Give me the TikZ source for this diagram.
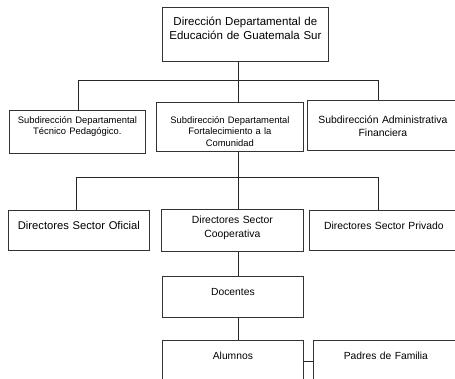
\documentclass[tikz,border=0pt]{standalone}
\usepackage{fontspec}
\setmainfont{Liberation Sans}

\begin{document}
\begin{tikzpicture}[
  x=1pt, y=-1pt,
  box/.style={draw=black!80,line width=0.8pt,anchor=north west,align=center,inner xsep=0pt,inner ysep=0pt},
  link/.style={draw=black!85,line width=0.8pt}
]
\useasboundingbox (0,0) rectangle (455,379);
\clip (0,0) rectangle (455,379);

% direccion
\node[box,text width=166pt,text height=18.5pt,text depth=35.5pt,font=\fontsize{11.5}{14}\selectfont] (dir) at (162,7) {Dirección Departamental de\\Educación de Guatemala Sur};

% subdirecciones
\node[box,text width=136pt,text height=13pt,text depth=30pt,font=\fontsize{9.4}{11}\selectfont] (sub1) at (9,110) {Subdirección Departamental\\Técnico Pedagógico.};
\node[box,text width=147pt,text height=21pt,text depth=28pt,font=\fontsize{9.4}{11.5}\selectfont] (sub2) at (156,102) {Subdirección Departamental\\Fortalecimiento a la\\Comunidad};
\node[box,text width=151pt,text height=23.5pt,text depth=26.5pt,font=\fontsize{10.4}{13}\selectfont] (sub3) at (307,100) {Subdirección Administrativa\\Financiera};

% directores
\node[box,text width=141pt,text height=18.5pt,text depth=21pt,font=\fontsize{11.2}{13}\selectfont] (ofic) at (8,210.5) {Directores Sector Oficial};
\node[box,text width=142pt,text height=14pt,text depth=28pt,font=\fontsize{10.4}{14}\selectfont] (coop) at (161,209) {Directores Sector\\Cooperativa};
\node[box,text width=149pt,text height=19pt,text depth=21pt,font=\fontsize{10.4}{13}\selectfont] (priv) at (309,210) {Directores Sector Privado};

% docentes, alumnos, padres
\node[box,text width=141pt,text height=19.5pt,text depth=21.5pt,font=\fontsize{10.3}{13}\selectfont] (doc) at (162,276) {Docentes};
\node[box,text width=141pt,text height=19.5pt,text depth=40.5pt,font=\fontsize{10.3}{13}\selectfont] (alum) at (162,340) {Alumnos};
\node[box,text width=145pt,text height=20pt,text depth=40pt,font=\fontsize{10.3}{13}\selectfont] (padres) at (313,339.5) {Padres de Familia};

% lineas
\coordinate (trunk) at (238,0);
\coordinate (busA) at (238,80);
\coordinate (busAL) at (78,80);
\coordinate (busAR) at (378,80);
\coordinate (busB) at (238,177);
\coordinate (busBL) at (76,177);
\coordinate (busBR) at (378,177);
\coordinate (famlink) at (0,361);

\draw[link] (dir.south -| trunk) -- (busA);
\draw[link] (busAL) -- (busAR);
\foreach \b/\n in {busAL/sub1,busA/sub2,busAR/sub3}
  \draw[link] (\b) -- (\b |- \n.north);

\draw[link] (sub2.south -| trunk) -- (busB);
\draw[link] (busBL) -- (busBR);
\foreach \b/\n in {busBL/ofic,busB/coop,busBR/priv}
  \draw[link] (\b) -- (\b |- \n.north);

\draw[link] (coop.south -| trunk) -- (doc.north -| trunk);
\draw[link] (doc.south -| trunk) -- (alum.north -| trunk);
\draw[link] (alum.east |- famlink) -- (padres.west |- famlink);
\end{tikzpicture}
\end{document}
